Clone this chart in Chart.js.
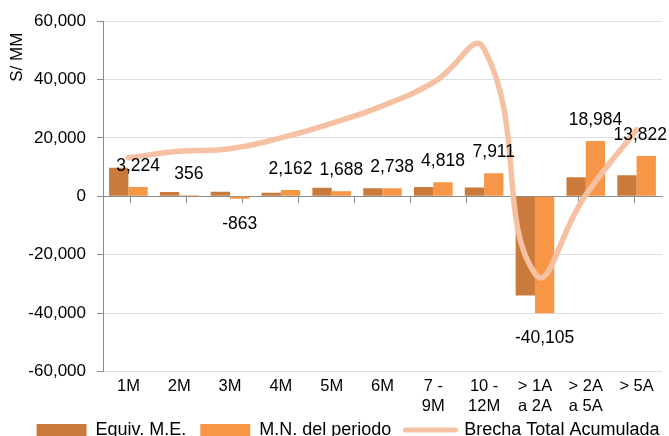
<!DOCTYPE html>
<html>
<head>
<meta charset="utf-8">
<script src="https://cdn.jsdelivr.net/npm/chart.js@4.4.1/dist/chart.umd.min.js"></script>
<style>
  html, body { margin: 0; padding: 0; background: #fff; overflow: hidden; }
  #wrap { width: 669px; height: 436px; overflow: hidden; }
</style>
</head>
<body>
<div id="wrap"><canvas id="c" width="669" height="463"></canvas></div>
<script>
/* ---- data ------------------------------------------------------------ */
const LABELS = [["1M"],["2M"],["3M"],["4M"],["5M"],["6M"],["7 -","9M"],["10 -","12M"],["> 1A","a 2A"],["> 2A","a 5A"],["> 5A"]];
const EQUIV_ME   = [9800, 1500, 1600, 1200, 2900, 2800, 3200, 3000, -34000, 6500, 7200];
const MN_PERIODO = [3224, 356, -863, 2162, 1688, 2738, 4818, 7911, -40105, 18984, 13822];
const BRECHA     = [13200, 15400, 16300, 20000, 25000, 31000, 39000, 50500, -26500, 500, 22800];
const Y_MIN = -60000, Y_MAX = 60000, Y_STEP = 20000;

const FONT = '"Liberation Sans", Arial, sans-serif';
const DARK = "#CA7B3B", LIGHT = "#F79646", LINE = "#F6C1A2";
const AXIS = "#8C8C8C", GRID = "#DEDEDE";

const fmt = v => v.toLocaleString("en-US");

/* ---- small plugins --------------------------------------------------- */
// value labels for the M.N. series
const valueLabels = {
  id: "valueLabels",
  afterDatasetsDraw(chart){
    const ctx = chart.ctx, meta = chart.getDatasetMeta(1);
    ctx.save();
    ctx.font = "17.5px " + FONT;
    ctx.fillStyle = "#000";
    ctx.textAlign = "center";
    ctx.textBaseline = "middle";
    meta.data.forEach((bar, i) => {
      const v = MN_PERIODO[i], t = fmt(v);
      const w = ctx.measureText(t).width;
      const x = Math.min(bar.x, chart.width - w/2 - 2);
      const y = v >= 0 ? bar.y - 21 : bar.y + 25;
      ctx.fillText(t, x, y);
    });
    ctx.restore();
  }
};

// rotated axis title near the top of the y axis
const yTitle = {
  id: "yTitle",
  afterDraw(chart){
    const ctx = chart.ctx, y = chart.scales.y;
    ctx.save();
    ctx.translate(17.5, y.top + 36);
    ctx.rotate(-Math.PI/2);
    ctx.font = "17px " + FONT;
    ctx.fillStyle = "#000";
    ctx.textAlign = "center";
    ctx.textBaseline = "middle";
    ctx.fillText("S/ MM", 0, 0);
    ctx.restore();
  }
};

// nudge legend so it sits like the original (partly cut at the bottom)
const legendShift = {
  id: "legendShift",
  afterLayout(chart){
    const l = chart.legend;
    l.left += 17; l.right += 17;
    l.top -= 14;  l.bottom -= 14;
  }
};

/* ---- chart ----------------------------------------------------------- */
new Chart(document.getElementById("c"), {
  data: {
    labels: LABELS,
    datasets: [
      { type: "bar", label: "Equiv. M.E.", data: EQUIV_ME, backgroundColor: DARK, order: 1,
        categoryPercentage: 0.76, barPercentage: 1.0 },
      { type: "bar", label: "M.N. del periodo", data: MN_PERIODO, backgroundColor: LIGHT, order: 1,
        categoryPercentage: 0.76, barPercentage: 1.0 },
      { type: "line", label: "Brecha Total Acumulada", data: BRECHA, borderColor: LINE, backgroundColor: LINE,
        borderWidth: 5.5, pointRadius: 0, tension: 0.5, borderCapStyle: "round", order: 0 }
    ]
  },
  options: {
    responsive: false,
    animation: false,
    layout: { padding: { top: 8, right: 7, left: 0, bottom: 0 } },
    scales: {
      x: {
        grid: { display: false, drawTicks: false },
        border: { display: false },
        ticks: { font: { family: FONT, size: 16.5, lineHeight: 1.2 }, color: "#000",
                 padding: 5, maxRotation: 0, autoSkip: false }
      },
      x2: {
        type: "category", axis: "x", position: { y: 0 },
        grid: { drawOnChartArea: false, offset: true, tickLength: 6, color: AXIS },
        border: { color: AXIS },
        ticks: { display: false }
      },
      y: {
        min: Y_MIN, max: Y_MAX,
        afterFit: s => { s.width = 103; },
        grid: { color: c => c.tick && c.tick.value === 0 ? AXIS : GRID, tickColor: AXIS, tickLength: 6 },
        border: { color: AXIS },
        ticks: { stepSize: Y_STEP, callback: v => fmt(v), font: { family: FONT, size: 17 },
                 color: "#000", padding: 11 }
      }
    },
    plugins: {
      tooltip: { enabled: false },
      legend: {
        position: "bottom",
        labels: {
          usePointStyle: true, pointStyleWidth: 50, boxHeight: 12, padding: 14,
          color: "#000", font: { family: FONT, size: 18 },
          generateLabels: chart => chart.data.datasets.map((ds, i) => ({
            text: ds.label, datasetIndex: i, hidden: false, fontColor: "#000",
            fillStyle: ds.type === "line" ? "rgba(0,0,0,0)" : ds.backgroundColor,
            strokeStyle: ds.type === "line" ? ds.borderColor : ds.backgroundColor,
            lineWidth: ds.type === "line" ? 5 : 0,
            lineCap: "round",
            pointStyle: ds.type === "line" ? "line" : "rect"
          }))
        }
      }
    }
  },
  plugins: [valueLabels, yTitle, legendShift]
});
</script>
</body>
</html>
